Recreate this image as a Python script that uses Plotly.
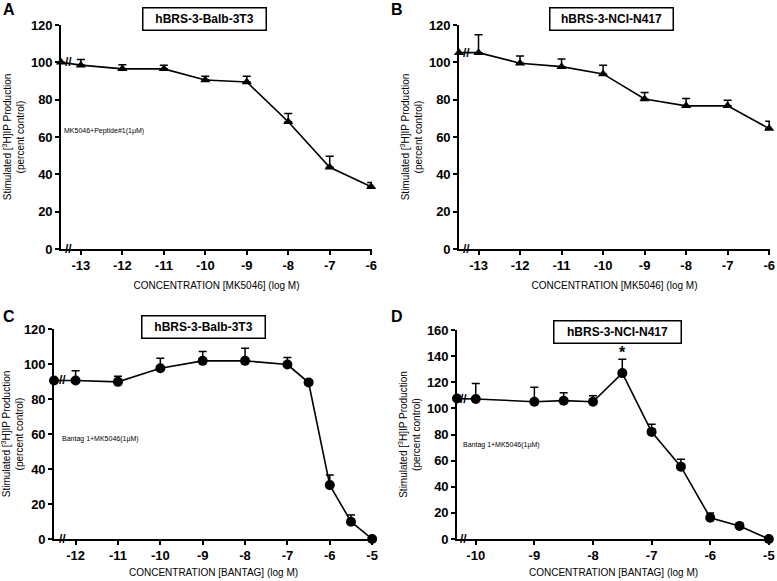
import plotly.graph_objects as go

FONT = "Liberation Sans, Arial, sans-serif"

# ---------------- data ----------------
# Panel A: hBRS-3-Balb-3T3, MK5046 + Peptide#1
a_x = [-13, -12, -11, -10, -9, -8, -7, -6]
a_y = [98.5, 96.5, 96.5, 90.5, 89.5, 68.2, 43.8, 33.3]
a_err = [3.0, 2.2, 2.0, 2.0, 3.1, 4.4, 5.9, 2.3]
a_ctrl = 100
a_xticks = [-13, -12, -11, -10, -9, -8, -7, -6]
a_xticklabels = ["-13", "-12", "-11", "-10", "-9", "-8", "-7", "-6"]

# Panel B: hBRS-3-NCI-N417, MK5046 + Peptide#1
b_x = [-13, -12, -11, -10, -9, -8, -7, -6]
b_y = [105.2, 99.5, 97.7, 93.8, 80.4, 76.7, 76.7, 64.5]
b_err = [9.6, 3.9, 4.1, 4.6, 3.4, 3.9, 3.0, 4.0]
b_ctrl = 105.2
b_xticks = [-13, -12, -11, -10, -9, -8, -7, -6]
b_xticklabels = ["-13", "-12", "-11", "-10", "-9", "-8", "-7", "-6"]

# Panel C: hBRS-3-Balb-3T3, Bantag-1 + MK5046
c_x = [-12, -11, -10, -9, -8, -7, -6.5, -6, -5.5, -5]
c_y = [90.6, 89.8, 97.6, 101.8, 101.8, 99.7, 89.4, 30.8, 9.9, 0]
c_err = [5.5, 3.2, 5.7, 5.3, 7.2, 4.0, 1.5, 5.8, 3.8, 0]
c_ctrl = 90.6
c_xticks = [-12, -11, -10, -9, -8, -7, -6, -5]
c_xticklabels = ["-12", "-11", "-10", "-9", "-8", "-7", "-6", "-5"]

# Panel D: hBRS-3-NCI-N417, Bantag-1 + MK5046
d_x = [-10, -9, -8.5, -8, -7.5, -7, -6.5, -6, -5.5, -5]
d_y = [107.2, 105.1, 105.9, 105.1, 127.0, 82.0, 55.4, 16.3, 9.9, 0]
d_err = [11.9, 11.0, 6.1, 4.6, 10.7, 5.9, 5.6, 3.7, 2.3, 0]
d_ctrl = 107.5
d_xticks = [-10, -9, -8, -7, -6, -5]
d_xticklabels = ["-10", "-9", "-8", "-7", "-6", "-5"]
d_star_x = -7.5
d_star_y = 143

titles = ["hBRS-3-Balb-3T3", "hBRS-3-NCI-N417", "hBRS-3-Balb-3T3", "hBRS-3-NCI-N417"]
letters = ["A", "B", "C", "D"]
notes = ["MK5046+Peptide#1(1µM)", "MK5046+Peptide#1(1µM)",
         "Bantag 1+MK5046(1µM)", "Bantag 1+MK5046(1µM)"]
xtitles = ["CONCENTRATION [MK5046] (log M)", "CONCENTRATION [MK5046] (log M)",
           "CONCENTRATION [BANTAG] (log M)", "CONCENTRATION [BANTAG] (log M)"]
ytitle = "Stimulated [<sup>3</sup>H]IP Production<br>(percent control)"

# ---------------- layout helpers ----------------
W, H = 777, 581

panels = [
    dict(x=a_x, y=a_y, err=a_err, ctrl=a_ctrl, xt=a_xticks, xl=a_xticklabels,
         xr=[-13.48, -5.98], yr=[0, 120], ydt=20, sym="triangle-up", msize=9,
         px=(61, 372), py=(25, 249), brk=-13.30, note_xy=(-13.45, 63),
         box=(204.5, 18.5, 120), letter=(9, 10), xstand=10),
    dict(x=b_x, y=b_y, err=b_err, ctrl=b_ctrl, xt=b_xticks, xl=b_xticklabels,
         xr=[-13.47, -5.98], yr=[0, 120], ydt=20, sym="triangle-up", msize=9,
         px=(459, 770), py=(25, 249), brk=-13.28, note_xy=(-13.55, 55),
         box=(611.5, 18.5, 120), letter=(397, 10), xstand=10),
    dict(x=c_x, y=c_y, err=c_err, ctrl=c_ctrl, xt=c_xticks, xl=c_xticklabels,
         xr=[-12.51, -4.98], yr=[0, 120], ydt=20, sym="circle", msize=10,
         px=(54, 373), py=(329, 539), brk=-12.30, note_xy=(-12.38, 57),
         box=(204, 327, 120), letter=(9, 316), xstand=7),
    dict(x=d_x, y=d_y, err=d_err, ctrl=d_ctrl, xt=d_xticks, xl=d_xticklabels,
         xr=[-10.32, -4.98], yr=[0, 160], ydt=20, sym="circle", msize=10,
         px=(457, 770), py=(330, 539), brk=-10.21, note_xy=(-10.25, 72),
         box=(617, 331.5, 124), letter=(397, 316), xstand=7),
]

fig = go.Figure()
annotations = []
layout_axes = {}

for i, p in enumerate(panels):
    n = i + 1
    xa = "x" if n == 1 else f"x{n}"
    ya = "y" if n == 1 else f"y{n}"
    xkey = "xaxis" if n == 1 else f"xaxis{n}"
    ykey = "yaxis" if n == 1 else f"yaxis{n}"

    xs = [p["xr"][0]] + p["x"]
    ys = [p["ctrl"]] + p["y"]
    es = [0] + p["err"]
    fig.add_trace(go.Scatter(
        x=xs, y=ys, mode="lines+markers", xaxis=xa, yaxis=ya,
        line=dict(color="black", width=1.6),
        marker=dict(symbol=p["sym"], size=p["msize"], color="black"),
        error_y=dict(type="data", symmetric=False, array=es,
                     arrayminus=[0] * len(es), color="black",
                     thickness=1.5, width=4),
        cliponaxis=False, showlegend=False, hoverinfo="skip",
    ))

    layout_axes[xkey] = dict(
        domain=[p["px"][0] / W, p["px"][1] / W], anchor=ya, automargin=False,
        range=p["xr"], showgrid=False, zeroline=False,
        showline=True, linecolor="black", linewidth=1.6,
        ticks="outside", ticklen=4, tickwidth=1.5, tickcolor="black",
        tickvals=p["xt"], ticktext=p["xl"],
        tickfont=dict(family=FONT, size=13, color="black", weight="bold"),
        title=dict(text=xtitles[i], standoff=p["xstand"],
                   font=dict(family=FONT, size=10, color="black")),
    )
    layout_axes[ykey] = dict(
        domain=[1 - p["py"][1] / H, 1 - p["py"][0] / H], anchor=xa,
        automargin=False,
        range=p["yr"], dtick=p["ydt"], showgrid=False, zeroline=False,
        showline=True, linecolor="black", linewidth=1.6,
        ticks="outside", ticklen=4, tickwidth=1.5, tickcolor="black",
        tickfont=dict(family=FONT, size=13, color="black", weight="bold"),
        title=dict(text=ytitle, standoff=4,
                   font=dict(family=FONT, size=10, color="black")),
    )

    # axis break marks
    for yy in (p["ctrl"], 0):
        annotations.append(dict(
            x=p["brk"], y=yy, xref=xa, yref=ya, text="<b>//</b>",
            showarrow=False, xanchor="center", yanchor="middle",
            font=dict(family=FONT, size=12, color="black"),
        ))
    # note
    annotations.append(dict(
        x=p["note_xy"][0], y=p["note_xy"][1], xref=xa, yref=ya, text=notes[i],
        showarrow=False, xanchor="left", yanchor="middle",
        font=dict(family=FONT, size=7, color="black"),
    ))
    # title box
    bx, by, bw = p["box"]
    annotations.append(dict(
        x=bx / W, y=1 - by / H, xref="paper", yref="paper",
        xanchor="center", yanchor="middle",
        text="<b>" + titles[i] + "</b>", showarrow=False,
        width=bw, height=19, bordercolor="black", borderwidth=1.5,
        borderpad=1, bgcolor="white",
        font=dict(family=FONT, size=12, color="black"),
    ))
    # panel letter
    lx, ly = p["letter"]
    annotations.append(dict(
        x=lx / W, y=1 - ly / H, xref="paper", yref="paper",
        xanchor="center", yanchor="middle",
        text="<b>" + letters[i] + "</b>", showarrow=False,
        font=dict(family=FONT, size=16, color="black"),
    ))

annotations.append(dict(
    x=d_star_x, y=d_star_y, xref="x4", yref="y4", text="<b>*</b>",
    showarrow=False, xanchor="center", yanchor="middle",
    font=dict(family=FONT, size=16, color="black"),
))

fig.update_layout(
    width=W, height=H, margin=dict(l=0, r=0, t=0, b=0),
    paper_bgcolor="white", plot_bgcolor="white",
    annotations=annotations, **layout_axes,
)

fig.write_html("out.html", config={"displayModeBar": False},
               post_script="document.body.style.margin='0';document.body.style.overflow='hidden';")
